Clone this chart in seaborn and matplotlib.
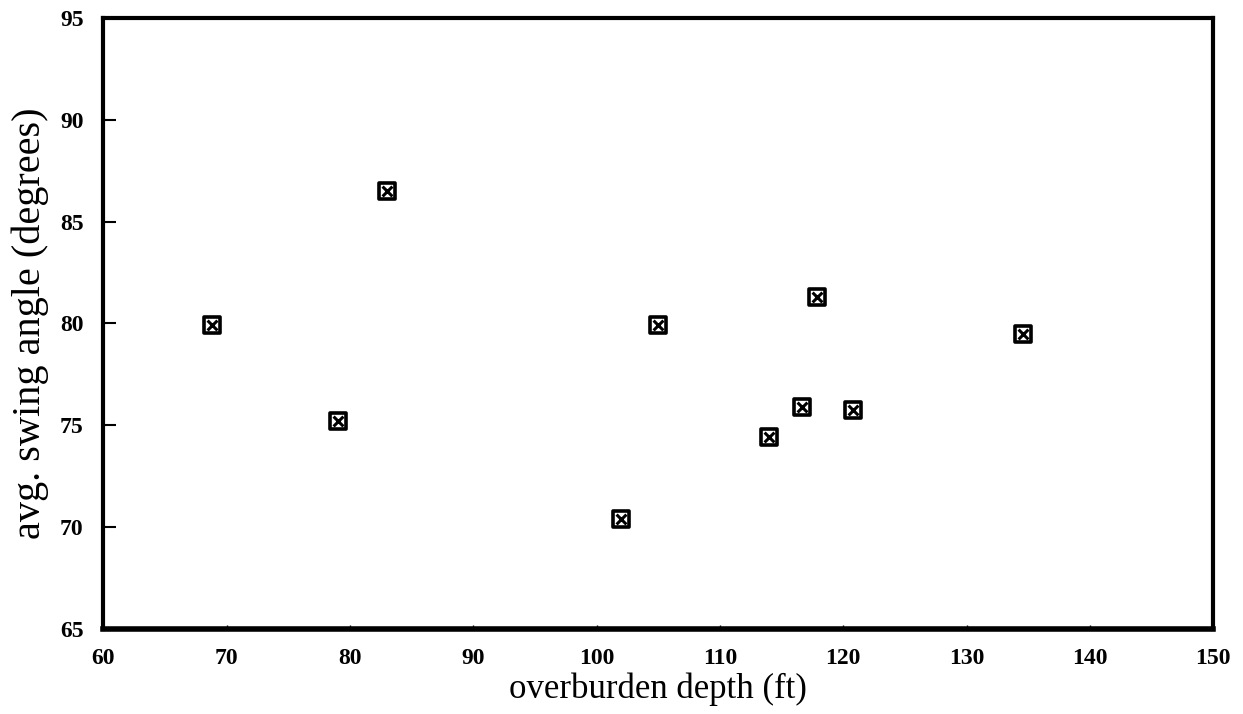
import matplotlib
matplotlib.use("Agg")
import matplotlib.pyplot as plt
import seaborn as sns
import pandas as pd

# overburden depth (ft) vs average swing angle (degrees)
depth = [68.8, 79.0, 83.0, 102.0, 105.0, 114.0, 116.7, 117.9, 120.8, 134.6]
swing = [79.9, 75.2, 86.5, 70.4, 79.9, 74.45, 75.9, 81.3, 75.75, 79.5]

x_ticks = [60, 70, 80, 90, 100, 110, 120, 130, 140, 150]
y_ticks = [65, 70, 75, 80, 85, 90, 95]

df = pd.DataFrame({'depth': depth, 'swing': swing})

sns.set_style("white")
plt.rcParams['font.family'] = ['Liberation Serif', 'DejaVu Serif']
plt.rcParams['text.color'] = 'black'
plt.rcParams['axes.labelcolor'] = 'black'
plt.rcParams['xtick.color'] = 'black'
plt.rcParams['ytick.color'] = 'black'

fig = plt.figure(figsize=(12.43, 7.14), dpi=100)
ax = fig.add_axes([0.083, 0.119, 0.893, 0.856])

# boxed-x markers: a square outline plus an x on top
sns.scatterplot(data=df, x='depth', y='swing', marker='s', s=120,
                facecolor='white', edgecolor='black', linewidth=2.6, ax=ax, zorder=3)
sns.scatterplot(data=df, x='depth', y='swing', marker='x', s=50,
                color='black', linewidth=2.2, ax=ax, zorder=4)

ax.set_xlim(60, 150)
ax.set_ylim(65, 95)
ax.set_xticks(x_ticks)
ax.set_yticks(y_ticks)
ax.set_xticklabels([str(t) for t in x_ticks], fontsize=17, fontweight='bold')
ax.set_yticklabels([str(t) for t in y_ticks], fontsize=17, fontweight='bold')
ax.tick_params(axis='y', left=True, direction='in', length=9, width=1.5, pad=14, color='black')
ax.tick_params(axis='x', bottom=True, direction='in', length=3, width=1, pad=14, color='black')

for side in ['left', 'right', 'top']:
    ax.spines[side].set_linewidth(3)
    ax.spines[side].set_color('black')
ax.spines['bottom'].set_linewidth(4)
ax.spines['bottom'].set_color('black')

ax.set_xlabel("overburden depth (ft)", fontsize=25, labelpad=2)
ax.set_ylabel("avg. swing angle (degrees)", fontsize=29, labelpad=8)

fig.savefig('out.png', dpi=100)
